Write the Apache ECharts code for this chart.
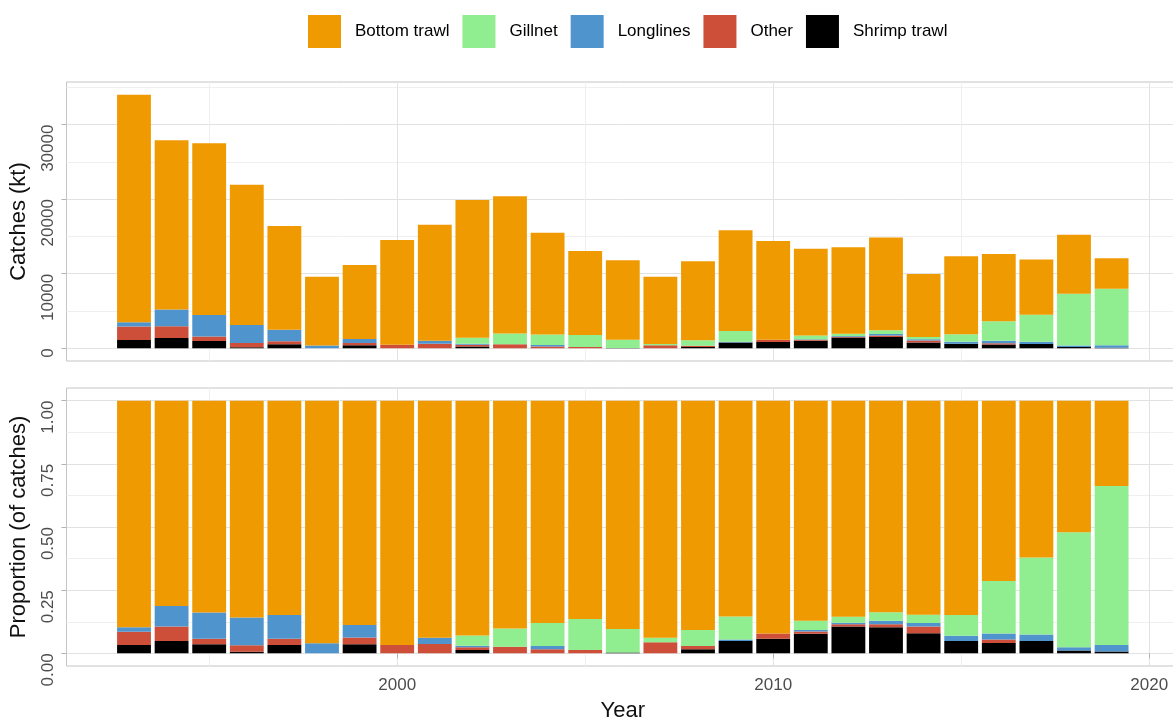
<!DOCTYPE html>
<html>
<head>
<meta charset="utf-8">
<title>Catches by gear</title>
<script src="https://cdn.jsdelivr.net/npm/echarts@6/dist/echarts.min.js"></script>
<style>
  html, body { margin: 0; padding: 0; background: #ffffff; }
  #chart { width: 1173px; height: 717px; }
</style>
</head>
<body>
<div id="chart"></div>
<script>
// Landings by gear type, kt per year
const years = [1993, 1994, 1995, 1996, 1997, 1998, 1999, 2000, 2001, 2002, 2003, 2004, 2005,
               2006, 2007, 2008, 2009, 2010, 2011, 2012, 2013, 2014, 2015, 2016, 2017, 2018, 2019];

const shrimpTrawl = [1120, 1370, 990, 145, 540, 0, 400, 0, 0, 260, 0, 0, 0,
                     35, 0, 190, 780, 835, 1030, 1440, 1530, 790, 605, 520, 585, 170, 85];
const other       = [1800, 1590, 605, 555, 410, 0, 300, 480, 615, 220, 530, 250, 170,
                     0, 420, 150, 0, 300, 120, 120, 180, 270, 0, 175, 0, 0, 0];
const longlines   = [580, 2260, 2860, 2410, 1540, 385, 560, 0, 415, 120, 0, 200, 0,
                     0, 0, 0, 95, 0, 80, 80, 210, 140, 260, 305, 300, 200, 315];
const gillnet     = [0, 0, 0, 0, 0, 0, 0, 0, 0, 815, 1470, 1410, 1610,
                     1100, 175, 735, 1440, 0, 495, 325, 490, 320, 1015, 2620, 3630, 6935, 7600];
const bottomTrawl = [30510, 22680, 23045, 18810, 13910, 9200, 9925, 14050, 15550, 18470, 18375, 13650, 11285,
                     10685, 8990, 10610, 13515, 13265, 11610, 11590, 12435, 8435, 10475, 9040, 7390, 7940, 4085];

// Axis breaks
const yearBreaks  = [2000, 2010, 2020];
const yearMinor   = [1995, 2005, 2015];
const catchBreaks = [0, 10000, 20000, 30000];
const catchMinor  = [5000, 15000, 25000, 35000];
const shareBreaks = [0, 0.25, 0.5, 0.75, 1];
const shareMinor  = [0.125, 0.375, 0.625, 0.875];

// Stacking order: first entry sits at the bottom of each bar
const gearNames  = ['Shrimp trawl', 'Other', 'Longlines', 'Gillnet', 'Bottom trawl'];
const gearValues = [shrimpTrawl, other, longlines, gillnet, bottomTrawl];
const legendOrder = ['Bottom trawl', 'Gillnet', 'Longlines', 'Other', 'Shrimp trawl'];
const gearColors = {
  'Bottom trawl': '#EE9A00',
  'Gillnet': '#90EE90',
  'Longlines': '#4F94CD',
  'Other': '#CD4F39',
  'Shrimp trawl': '#000000'
};

const totals = years.map((_, i) => gearValues.reduce((s, arr) => s + arr[i], 0));
const maxTotal = Math.max(...totals);

const FONT = '"Liberation Sans", Arial, Helvetica, sans-serif';
const BORDER = '#c4c4c4';
const MAJOR = '#e2e2e2';
const MINOR = '#efefef';
const TICK = '#b3b3b3';
const LABEL = '#4d4d4d';

// 5% padding around the data range, bars 0.9 of a year wide
const barW = 0.9;
const span = years[years.length - 1] - years[0] + barW;
const xMin = years[0] - barW / 2 - 0.05 * span;
const xMax = years[years.length - 1] + barW / 2 + 0.05 * span;
const pxPerYear = 37.6;
const gridLeft = 66.5;
const gridWidth = (xMax - xMin) * pxPerYear;

const chart = echarts.init(document.getElementById('chart'), null, { renderer: 'canvas' });

function mainXAxis(grid, withLabels) {
  return {
    type: 'value', gridIndex: grid, min: xMin, max: xMax, position: 'bottom',
    axisLine: { show: false },
    axisTick: { show: withLabels, customValues: yearBreaks, length: 5, lineStyle: { color: TICK, width: 1 } },
    axisLabel: {
      show: withLabels, customValues: yearBreaks, margin: 11,
      fontFamily: FONT, fontSize: 17, color: LABEL,
      formatter: v => String(Math.round(v))
    },
    splitLine: { show: true, lineStyle: { color: MAJOR, width: 1 } },
    name: withLabels ? 'Year' : '',
    nameLocation: 'middle', nameGap: 34,
    nameTextStyle: { fontFamily: FONT, fontSize: 22, color: '#111111' }
  };
}

function minorXAxis(grid) {
  return {
    type: 'value', gridIndex: grid, min: xMin, max: xMax, position: 'top',
    axisLine: { show: false },
    axisTick: { show: false, customValues: yearMinor },
    axisLabel: { show: false },
    splitLine: { show: true, lineStyle: { color: MINOR, width: 1 } }
  };
}

function mainYAxis(grid, lo, hi, breaks, fmt, title) {
  return {
    type: 'value', gridIndex: grid, min: lo, max: hi, position: 'left',
    axisLine: { show: false },
    axisTick: { show: true, customValues: breaks, length: 5, lineStyle: { color: TICK, width: 1 } },
    axisLabel: {
      customValues: breaks, rotate: 90, align: 'right', verticalAlign: 'middle', margin: 18,
      fontFamily: FONT, fontSize: 17, color: LABEL, formatter: fmt
    },
    splitLine: { show: true, lineStyle: { color: MAJOR, width: 1 } },
    name: title, nameLocation: 'middle', nameGap: 37, nameRotate: 90,
    nameTextStyle: { fontFamily: FONT, fontSize: 22, color: '#111111' }
  };
}

function minorYAxis(grid, lo, hi, breaks) {
  return {
    type: 'value', gridIndex: grid, min: lo, max: hi, position: 'right',
    axisLine: { show: false },
    axisTick: { show: false, customValues: breaks },
    axisLabel: { show: false },
    splitLine: { show: true, lineStyle: { color: MINOR, width: 1 } }
  };
}

// Rows are [value, year]; encode maps them so the stack runs along the value axis
function barSeries(name, stack, axis, values) {
  return {
    type: 'bar', name, stack, xAxisIndex: axis, yAxisIndex: axis,
    barWidth: barW * pxPerYear,
    itemStyle: { color: gearColors[name] },
    emphasis: { disabled: true },
    encode: { x: 1, y: 0 },
    data: years.map((y, i) => [values[i], y])
  };
}

const series = [];
gearNames.forEach((name, g) => {
  series.push(barSeries(name, 'catch', 0, gearValues[g]));
});
gearNames.forEach((name, g) => {
  series.push(barSeries(name, 'share', 1, gearValues[g].map((v, i) => v / totals[i])));
});

chart.setOption({
  backgroundColor: '#ffffff',
  animation: false,
  textStyle: { fontFamily: FONT },
  legend: {
    data: legendOrder,
    left: 308, top: 15, padding: 0,
    icon: 'rect', itemWidth: 33, itemHeight: 33, itemGap: 13,
    selectedMode: false,
    textStyle: { fontFamily: FONT, fontSize: 17, color: '#000000', padding: [0, 0, 0, 9] }
  },
  grid: [
    { left: gridLeft, top: 82, width: gridWidth, height: 279, outerBoundsMode: 'none',
      show: true, borderColor: BORDER, borderWidth: 1, backgroundColor: 'transparent' },
    { left: gridLeft, top: 388, width: gridWidth, height: 278, outerBoundsMode: 'none',
      show: true, borderColor: BORDER, borderWidth: 1, backgroundColor: 'transparent' }
  ],
  xAxis: [mainXAxis(0, false), mainXAxis(1, true), minorXAxis(0), minorXAxis(1)],
  yAxis: [
    mainYAxis(0, -0.05 * maxTotal, 1.05 * maxTotal, catchBreaks, v => String(Math.round(v)), 'Catches (kt)'),
    mainYAxis(1, -0.05, 1.05, shareBreaks, v => v.toFixed(2), 'Proportion (of catches)'),
    minorYAxis(0, -0.05 * maxTotal, 1.05 * maxTotal, catchMinor),
    minorYAxis(1, -0.05, 1.05, shareMinor)
  ],
  series
});
</script>
</body>
</html>
